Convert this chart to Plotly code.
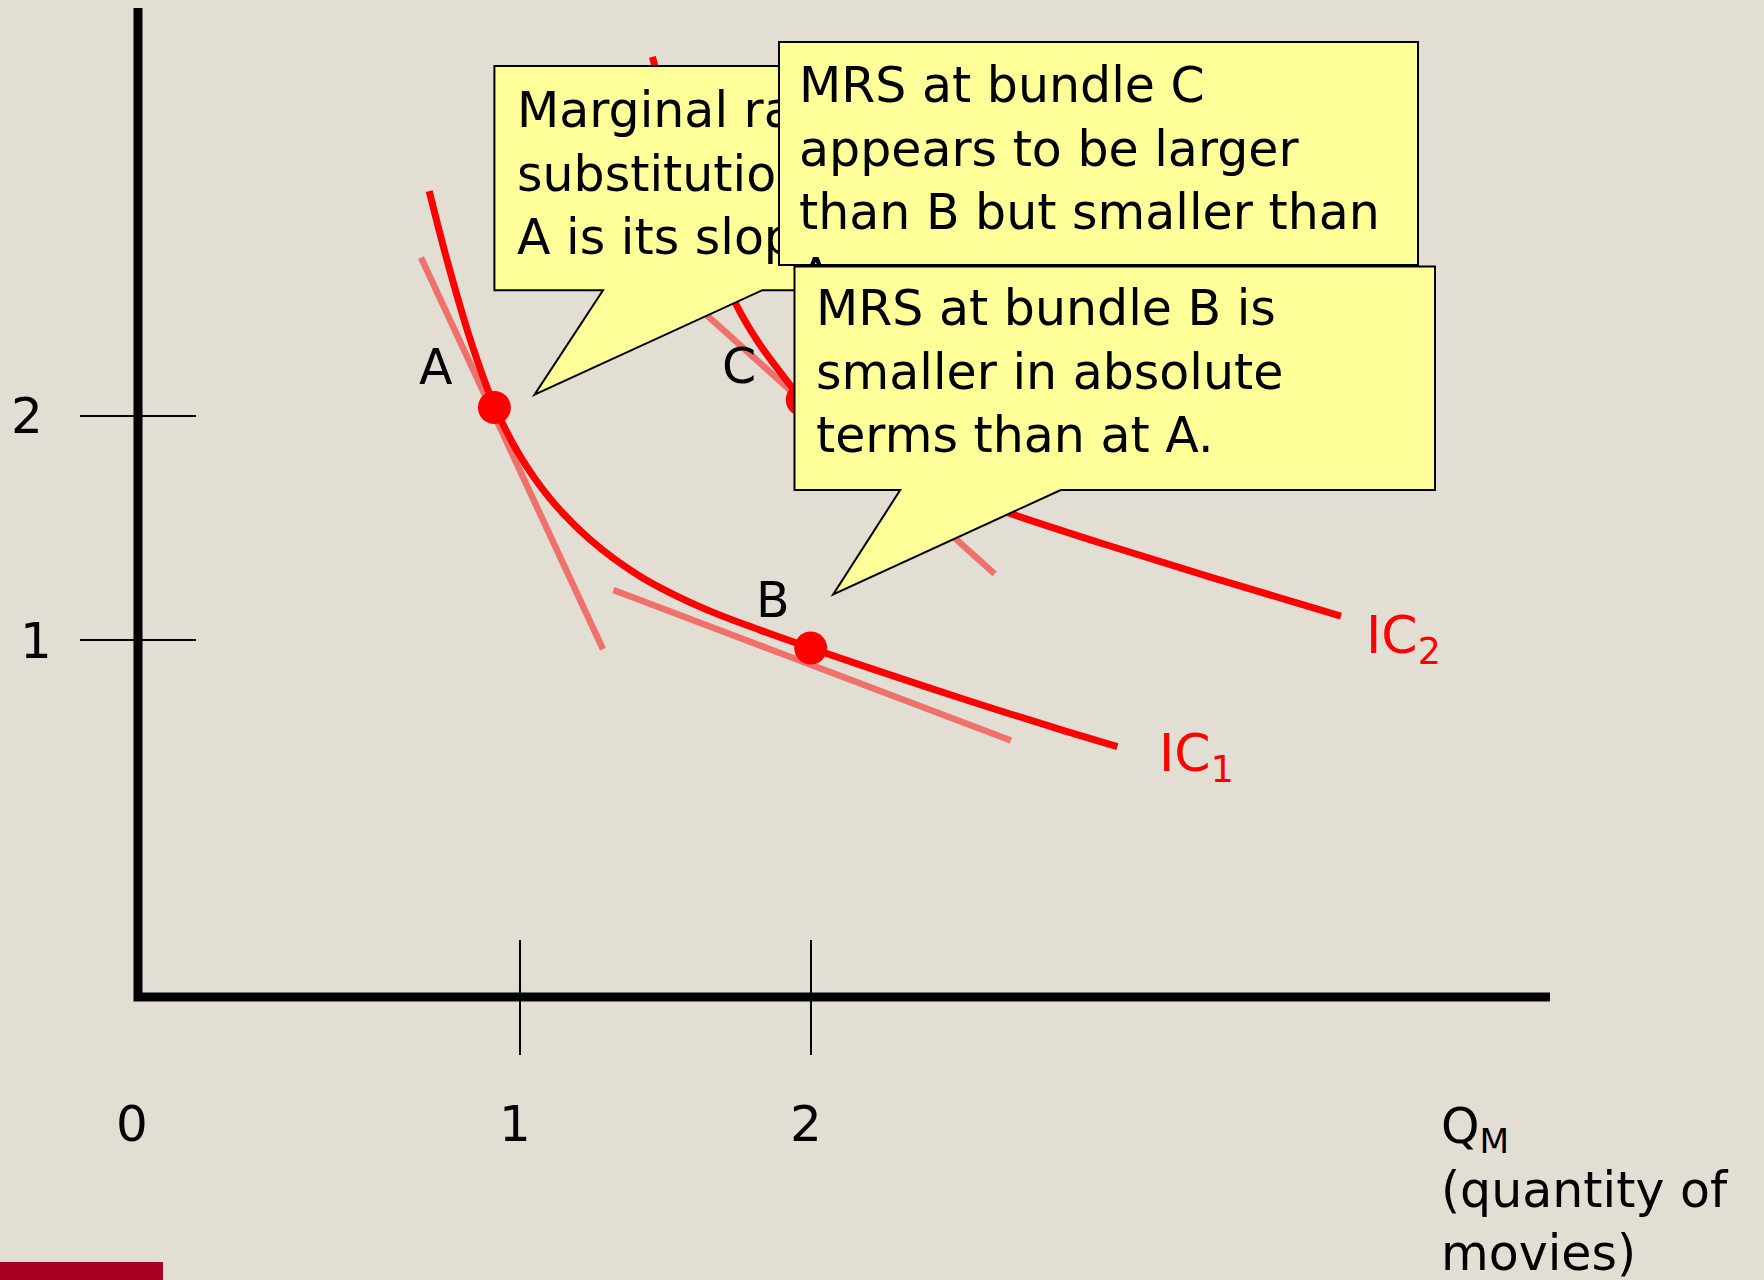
import plotly.graph_objects as go

# ---------------- data (schematic units: tick "1" / "2" sit at 1 and 2) ----------------
ic1_x = [0.688, 0.750, 0.831, 0.912, 1.000, 1.103, 1.241, 1.412, 1.619, 1.825, 1.999,
         2.210, 2.534, 2.858, 3.053]
ic1_y = [3.004, 2.692, 2.334, 2.045, 1.822, 1.632, 1.448, 1.285, 1.148, 1.044, 0.964,
         0.871, 0.732, 0.600, 0.524]

ic2_x = [1.455, 1.517, 1.584, 1.670, 1.742, 1.820, 1.934, 1.966, 2.134, 2.340, 2.512, 2.680,
         3.017, 3.405, 3.821]
ic2_y = [3.603, 3.313, 3.040, 2.732, 2.500, 2.327, 2.129, 2.076, 1.915, 1.759, 1.647, 1.567,
         1.424, 1.268, 1.107]

tanA_x = [0.660, 1.285]
tanA_y = [2.707, 0.959]
tanB_x = [1.321, 2.687]
tanB_y = [1.223, 0.551]
tanC_x = [1.481, 2.631]
tanC_y = [2.638, 1.295]

bundle_names = ["A", "B", "C"]
bundle_x = [0.912, 1.999, 1.970]
bundle_y = [2.038, 0.964, 2.072]

x_tick_vals = [1, 2]
y_tick_vals = [1, 2]
x_tick_labels = ["0", "1", "2"]
y_tick_labels = ["1", "2"]

callout_A = "Marginal rate of<br>substitution at<br>A is its slope."
callout_C = "MRS at bundle C<br>appears to be larger<br>than B but smaller than<br>A."
callout_B = "MRS at bundle B is<br>smaller in absolute<br>terms than at A."

# ---------------- canvas / scale ----------------
W, H = 1764, 1280
BG = "#E3DED3"
RED = "#FF0000"
PINK = "#EF716C"
YELLOW = "#FFFF99"
FONT = "DejaVu Sans"
PXX, PXY = 291.0, 224.0          # pixels per unit
X1PX, Y1PY = 520.0, 640.0        # pixel position of value 1


def dx(px):
    return 1 + (px - X1PX) / PXX


def dy(py):
    return 1 + (Y1PY - py) / PXY


x0, y0 = dx(138), dy(997)        # origin of the axes
x_end, y_top = dx(1550), dy(8)

fig = go.Figure()

# tangent lines
for tx, ty in [(tanA_x, tanA_y), (tanB_x, tanB_y), (tanC_x, tanC_y)]:
    fig.add_trace(go.Scatter(x=tx, y=ty, mode="lines",
                             line=dict(color=PINK, width=6.5), hoverinfo="skip"))

# indifference curves
for cx, cy in [(ic1_x, ic1_y), (ic2_x, ic2_y)]:
    fig.add_trace(go.Scatter(x=cx, y=cy, mode="lines",
                             line=dict(color=RED, width=7, shape="spline", smoothing=1.0),
                             hoverinfo="skip"))

# bundles
fig.add_trace(go.Scatter(x=bundle_x, y=bundle_y, mode="markers",
                         marker=dict(color=RED, size=33), hoverinfo="skip"))

# axes
fig.add_trace(go.Scatter(x=[x0, x0, x_end], y=[y_top, y0, y0], mode="lines",
                         line=dict(color="black", width=9), hoverinfo="skip"))
# tick marks
for v in y_tick_vals:
    fig.add_trace(go.Scatter(x=[dx(80), dx(196)], y=[v, v], mode="lines",
                             line=dict(color="black", width=2), hoverinfo="skip"))
for v in x_tick_vals:
    fig.add_trace(go.Scatter(x=[v, v], y=[dy(940), dy(1055)], mode="lines",
                             line=dict(color="black", width=2), hoverinfo="skip"))

annotations = []


def txt(text, px, py, size=49, color="black", xanchor="left", yanchor="top", **kw):
    d = dict(text=text, x=dx(px), y=dy(py), xref="x", yref="y", showarrow=False,
             xanchor=xanchor, yanchor=yanchor, align="left",
             font=dict(family=FONT, size=size, color=color))
    d.update(kw)
    annotations.append(d)


# tick labels
txt(x_tick_labels[0], 132, 1124, size=50, xanchor="center", yanchor="middle")
for lab, v in zip(x_tick_labels[1:], x_tick_vals):
    txt(lab, X1PX + (v - 1) * PXX - 5, 1124, size=50, xanchor="center", yanchor="middle")
txt(y_tick_labels[0], 36, 641, size=50, xanchor="center", yanchor="middle")
txt(y_tick_labels[1], 27, 416, size=50, xanchor="center", yanchor="middle")

# bundle labels
txt("A", 435.5, 367.5, xanchor="center", yanchor="middle")
txt("B", 773, 600, xanchor="center", yanchor="middle")
txt("C", 738.5, 366.5, xanchor="center", yanchor="middle")

# curve labels
txt("IC<sub>2</sub>", 1364, 603, size=52, color=RED)
txt("IC<sub>1</sub>", 1157, 721, size=52, color=RED)

# axis title
txt("Q<sub>M</sub><br>(quantity of<br>movies)", 1439, 1096)

# callout A text (box is a shape below)
txt(callout_A, 515, 79.5)

# callout C box (covers callout A) and its text
annotations.append(dict(text=" ", x=dx(777.5), y=dy(41), xref="x", yref="y", showarrow=False,
                        xanchor="left", yanchor="top", width=636.5, height=220.8,
                        bgcolor=YELLOW, bordercolor="black", borderwidth=2, borderpad=0,
                        font=dict(family=FONT, size=10)))
txt(callout_C, 797, 55, width=600, height=209, valign="top")

# callout B text
txt(callout_B, 814, 278)


# shapes: callout A and B with tails, bottom-left slide decoration
def path(pts):
    return "M " + " L ".join(f"{dx(px):.5f},{dy(py):.5f}" for px, py in pts) + " Z"


shapes = [
    dict(type="path", xref="x", yref="y", layer="above",
         path=path([(494.4, 66), (1000, 66), (1000, 290.2), (762.4, 290.2), (534.5, 394.6),
                    (603, 290.2), (494.4, 290.2)]),
         fillcolor=YELLOW, line=dict(color="black", width=2)),
    dict(type="path", xref="x", yref="y", layer="above",
         path=path([(794.5, 266.5), (1435, 266.5), (1435, 490), (1060.7, 490), (833.2, 594.4),
                    (900.2, 490), (794.5, 490)]),
         fillcolor=YELLOW, line=dict(color="black", width=2)),
    dict(type="rect", xref="paper", yref="paper", x0=0, x1=163 / W, y0=0, y1=18 / H,
         fillcolor="#A50021", line=dict(width=0), layer="above"),
]

fig.update_layout(
    width=W, height=H, margin=dict(l=0, r=0, t=0, b=0),
    paper_bgcolor=BG, plot_bgcolor=BG, showlegend=False,
    xaxis=dict(range=[dx(0), dx(W)], visible=False, fixedrange=True),
    yaxis=dict(range=[dy(H), dy(0)], visible=False, fixedrange=True),
    annotations=annotations, shapes=shapes,
)

fig.write_html("out.html", config={"displayModeBar": False},
               post_script="document.body.style.margin='0';")
